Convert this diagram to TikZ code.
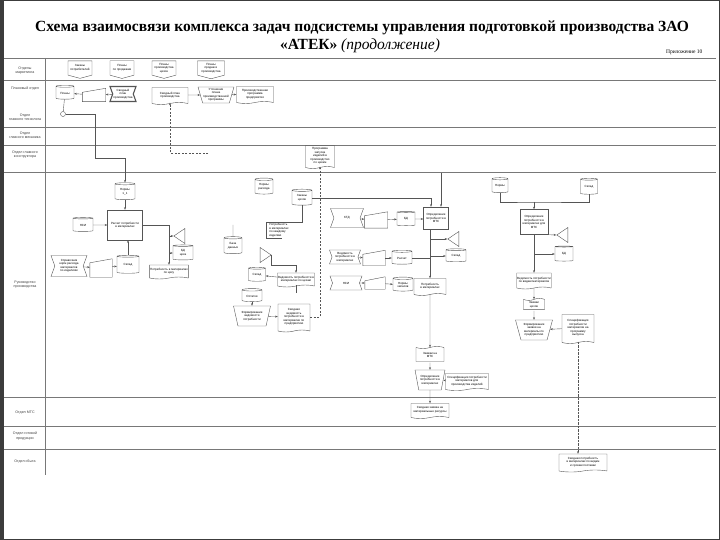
\documentclass[tikz,border=0pt]{standalone}
\usepackage{fontspec}
\setmainfont{Liberation Serif}
\newfontfamily\schemefont{Liberation Sans}
\usetikzlibrary{shapes.geometric, shapes.symbols, arrows.meta, positioning, calc}
\definecolor{linegray}{RGB}{85,85,85}
\definecolor{lanegray}{RGB}{120,120,120}
\definecolor{framegray}{RGB}{60,60,60}
\newcommand{\minitext}{\schemefont\fontsize{3}{3.5}\selectfont}
\newcommand{\lanetext}{\schemefont\fontsize{3.6}{4.2}\selectfont}
\tikzset{
  base/.style={draw=linegray, line width=0.4pt, align=center, font=\minitext,
               inner sep=0.5pt, text=black},
  proc/.style    = {base, rectangle},
  store/.style   = {base, cylinder, shape border rotate=90, aspect=0.2},
  doc/.style     = {base, tape, tape bend top=none, tape bend height=2pt},
  arch/.style    = {base, tape, tape bend bottom=none, tape bend height=2pt},
  offpage/.style = {base, signal, signal to=south, signal from=nowhere, signal pointer angle=150},
  screen/.style  = {base, signal, signal to=nowhere, signal from=west and east, signal pointer angle=140},
  manop/.style   = {base, trapezium, shape border rotate=180, trapezium stretches=true,
                    trapezium left angle=72, trapezium right angle=72},
  merge/.style   = {base, isosceles triangle, isosceles triangle stretches=true, shape border rotate=180},
  keyin/.style   = {base, draw=none, append after command={\pgfextra{
                    \draw[draw=linegray, line width=0.4pt] (\tikzlastnode.south west)
                      -- ([yshift=-4pt]\tikzlastnode.north west) -- (\tikzlastnode.north east)
                      -- (\tikzlastnode.south east) -- cycle;}}},
  arr/.style     = {-{Stealth[length=2.6pt, width=2pt]}, line width=0.4pt, color=linegray},
  link/.style    = {line width=0.4pt, color=linegray},
  darr/.style    = {-{Stealth[length=2.6pt, width=2pt]}, line width=0.4pt,
                    dash pattern=on 2pt off 1.5pt, color=linegray},
  lane/.style    = {line width=0.6pt, color=lanegray},
  lanelabel/.style = {font=\lanetext, align=center, text=black!75},
}

\begin{document}
\begin{tikzpicture}[x=1pt, y=-1pt]
  \useasboundingbox (0,0) rectangle (720,540);
  % page frame
  \draw[framegray, line width=0.8pt] (0.4,0.4) rectangle (719.6,539.6);
  \fill[framegray] (0,0) rectangle (3.5,540);

  % title
  \node[font=\bfseries\fontsize{15.5}{17}\selectfont] (title) at (362,28)
       {Схема взаимосвязи комплекса задач подсистемы управления подготовкой производства ЗАО};
  \node[font=\fontsize{15.5}{17}\selectfont] (title2) at (360,46)
       {\textbf{«АТЕК»} \textit{(продолжение)}};
  \node[font=\fontsize{5.5}{6}\selectfont, anchor=east] (appx) at (706,52) {Приложение 10};

  % lanes
  \foreach \y in {58,80,127,145,172,397,426,449} \draw[lane] (4,\y) -- (716,\y);
  \draw[lane] (45,58) -- (45,475);
  \node[lanelabel] (lmkt)  at (25,71)  {Отделы\\маркетинга};
  \node[lanelabel] (lplan) at (25,89)  {Плановый отдел};
  \node[lanelabel] (lteh)  at (25,117) {Отдел\\главного технолога};
  \node[lanelabel] (lmeh)  at (25,135) {Отдел\\главного механика};
  \node[lanelabel] (lkon)  at (25,155) {Отдел главного\\конструктора};
  \node[lanelabel] (lpro)  at (25,285) {Руководство\\производства};
  \node[lanelabel] (lmts)  at (25,413) {Отдел МТС};
  \node[lanelabel] (lgp)   at (25,436) {Отдел готовой\\продукции};
  \node[lanelabel] (lsb)   at (25,462) {Отдел сбыта};

  % off-page inputs
  \node[offpage, minimum width=24pt, minimum height=17pt] (zak)  at (80,68)  {Заказы\\потребителей};
  \node[offpage, minimum width=24pt, minimum height=17pt] (prod) at (122,68) {Планы\\по продажам};
  \node[offpage, minimum width=24pt, minimum height=17pt] (cehp) at (164,68) {Планы\\производства\\цехов};
  \node[offpage, minimum width=27pt, minimum height=17pt] (psp)  at (211,68) {Планы\\продаж и\\производства};

  % planning department
  \node[store, minimum width=18pt, minimum height=14pt] (plan0) at (65,93) {Планы};
  \node[keyin, minimum width=23pt, minimum height=13pt] (kin0) at (94,95) {};
  \node[screen, line width=1.1pt, minimum width=26pt, minimum height=15pt] (svod0) at (123,94)
       {Сводный\\план\\производства};
  \node[doc, minimum width=36pt, minimum height=17pt] (plandoc) at (170,95) {Сводный план\\производства};
  \node[manop, minimum width=33pt, minimum height=16pt] (utoch) at (216,95)
       {Уточнение\\плана\\производственной\\программы};
  \node[doc, minimum width=37pt, minimum height=17pt] (prog) at (255,94)
       {Производственная\\программа\\предприятия};
  \node[circle, draw=linegray, line width=0.4pt, minimum size=5pt, inner sep=0pt] (jn0) at (63,114) {};
  \coordinate (planend) at (208,153);

  \draw[arr] (svod0) -- (kin0);
  \draw[arr] (kin0) -- (plan0);
  \draw[arr] (plandoc) -- (utoch);
  \draw[arr] (utoch) -- (prog);
  \draw[link] (plan0) -- (jn0);
  \draw[darr] (planend) -| (plandoc.south);

  % launch programme
  \node[doc, minimum width=29pt, minimum height=23pt] (zapusk) at (320,156)
       {Программа\\запуска\\изделий в\\производство\\по цехам};

  % production: workshop demand
  \node[store, minimum width=20pt, minimum height=17pt] (normA) at (125,192) {Нормы\\1\_1};
  \node[proc, minimum width=35pt, minimum height=30pt] (calcA) at (125,225) {Расчет потребности\\в материалах};
  \node[store, minimum width=20pt, minimum height=14pt] (nsiA) at (83,225) {НСИ};
  \node[store, minimum width=22pt, minimum height=18pt] (ostA) at (128,265) {Склад};
  \node[keyin, minimum width=22pt, minimum height=18pt] (kinA) at (101,268) {};
  \node[screen, minimum width=36pt, minimum height=21pt] (sprA) at (69,266)
       {Справочник\\норм расхода\\материалов\\по изделиям};
  \node[merge, minimum width=15pt, minimum height=11pt] (triA) at (181,236) {};
  \node[store, minimum width=20pt, minimum height=15pt] (bdA) at (183,253) {БД\\цеха};
  \node[doc, minimum width=38pt, minimum height=14pt] (potrA) at (169,271) {Потребность в материалах\\по цеху};

  \draw[arr] (jn0.east) -| (95,158) -| (normA.north);
  \draw[arr] (normA) -- (calcA);
  \draw[arr] (nsiA) -- (calcA);
  \draw[arr] (ostA.north) -- (ostA.north |- calcA.south);
  \draw[arr] (sprA) -- (kinA);
  \draw[arr] (kinA) -- (ostA);
  \draw[arr] (calcA.east) -| (potrA.north);
  \draw[arr] (potrA.north |- triA.apex) -- (triA.apex);
  \draw[arr] (potrA.north |- bdA.west) -- (bdA.west);

  % production: summary statement
  \node[store, minimum width=18pt, minimum height=16pt] (normE) at (264,187) {Нормы\\расхода};
  \node[store, minimum width=20pt, minimum height=16pt] (zakF) at (302,198) {Заказы\\цехов};
  \node[font=\minitext, align=left, inner sep=1pt] (noteF) at (279,230)
       {Потребность\\в материалах\\по каждому\\изделию};
  \node[store, minimum width=18pt, minimum height=17pt] (bdG) at (233,246) {База\\данных};
  \coordinate (bdGin) at (233,225);
  \node[merge, shape border rotate=0, minimum width=15pt, minimum height=11pt] (triG) at (264,255) {};
  \node[store, minimum width=17pt, minimum height=14pt] (sklH) at (257,275) {Склад};
  \node[doc, minimum width=33pt, minimum height=14pt] (vedG) at (296,279)
       {Ведомость потребности в\\материалах по цехам};
  \node[store, minimum width=20pt, minimum height=13pt] (ostI) at (252,296) {Остатки};
  \node[manop, minimum width=37pt, minimum height=20pt] (formI) at (252,316)
       {Формирование\\ведомости\\потребности};
  \node[doc, minimum width=32pt, minimum height=28pt] (svodI) at (294,317)
       {Сводная\\ведомость\\потребности в\\материалах по\\предприятию};

  \draw[link] (zakF.south) |- ([xshift=-2pt]noteF.north west) -- ([xshift=-2pt]noteF.south west)
        -- ([xshift=14pt]noteF.south west);
  \draw[link] (bdGin) -- (bdG.north);
  \draw[arr] (triG.apex) -- ++(0,10) -| (vedG.north);
  \draw[arr] (vedG) -- (sklH);
  \draw[link] (vedG.south) -- ++(0,8);
  \draw[arr] (ostI) -- (formI);
  \draw[arr] (formI) -- (svodI);
  \draw[darr] (svodI.east) -| (zapusk.south);

  % production: demand for supplies
  \node[proc, minimum width=25pt, minimum height=22pt] (opJ) at (436,218) {Определение\\потребности в\\МТС};
  \coordinate (opJin) at (441,173);
  \node[screen, minimum width=33pt, minimum height=19pt] (ktdJ) at (347,218) {КТД};
  \node[keyin, minimum width=23pt, minimum height=16pt] (kinJ1) at (376,220) {};
  \node[store, minimum width=18pt, minimum height=14pt] (bdJ1) at (406,219) {БД};
  \node[screen, minimum width=31pt, minimum height=14pt] (vedJ2) at (345,257)
       {Ведомость\\потребности в\\материалах};
  \node[keyin, minimum width=22pt, minimum height=15pt] (kinJ2) at (374,258) {};
  \node[store, minimum width=20pt, minimum height=14pt] (bdJ2) at (402,258) {Расчет};
  \node[merge, minimum width=15pt, minimum height=11pt] (triJ) at (455,239) {};
  \node[store, minimum width=20pt, minimum height=13pt] (sklJ) at (456,256) {Склад};
  \node[screen, minimum width=32pt, minimum height=14pt] (nsiJ) at (346,283) {НСИ};
  \node[keyin, minimum width=20pt, minimum height=12pt] (kinJ3) at (375,283) {};
  \node[store, minimum width=20pt, minimum height=14pt] (zapJ) at (403,285) {Нормы\\запасов};
  \node[doc, minimum width=32pt, minimum height=17pt] (potrJ) at (430,286) {Потребность\\в материалах};

  \draw[arr] (zakF.east) -| ([xshift=-5pt]opJ.north);
  \draw[arr] (opJin) -- (opJin |- opJ.north);
  \draw[arr] (ktdJ) -- (kinJ1);
  \draw[arr] (kinJ1) -- (bdJ1);
  \draw[arr] (bdJ1) -- (bdJ1 -| opJ.west);
  \draw[arr] (vedJ2) -- (kinJ2);
  \draw[arr] (kinJ2) -- (bdJ2);
  \draw[arr] (nsiJ) -- (kinJ3);
  \draw[arr] (kinJ3) -- (zapJ);
  \draw[arr] (potrJ.north |- opJ.south) -- (potrJ.north);
  \draw[arr] (potrJ.north |- triJ.apex) -- (triJ.apex);
  \draw[arr] (potrJ.north |- sklJ.west) -- (sklJ.west);
  \draw[link] (bdJ2.east) -- (bdJ2.east -| potrJ.north);

  % requests to supply department
  \node[arch, minimum width=28pt, minimum height=15pt] (zayK) at (430,355) {Заявки на\\МТС};
  \node[manop, minimum width=30pt, minimum height=20pt] (formK) at (430,380)
       {Определение\\потребности в\\материалах};
  \node[doc, minimum width=43pt, minimum height=17pt] (specK) at (467,381)
       {Спецификация потребности\\материалов для\\производства изделий};
  \node[doc, minimum width=38pt, minimum height=15pt] (zayL) at (430,410)
       {Сводная заявка на\\материальные ресурсы};
  \draw[arr] (potrJ) -- (zayK);
  \draw[arr] (zayK) -- (formK);
  \draw[arr] (specK) -- (formK);
  \draw[arr] (formK) -- (zayL);

  % production: material requisition
  \node[store, minimum width=16pt, minimum height=15pt] (normM) at (500,186) {Нормы};
  \node[store, minimum width=17pt, minimum height=16pt] (sklM) at (589,187) {Склад};
  \node[proc, minimum width=28pt, minimum height=25pt] (opM) at (534,222)
       {Определение\\потребности в\\материалах для\\МТС};
  \coordinate (jM) at (534,202);
  \node[merge, minimum width=15pt, minimum height=11pt] (triM) at (564,235) {};
  \node[store, minimum width=18pt, minimum height=15pt] (bdN) at (564,254) {БД};
  \node[doc, minimum width=34pt, minimum height=16pt] (vedM) at (534,280)
       {Ведомость потребности\\по видам материалов};
  \node[arch, minimum width=21pt, minimum height=11pt] (zayM) at (534,305) {Заявки\\цехов};
  \node[manop, minimum width=37pt, minimum height=20pt] (formM) at (534,330)
       {Формирование\\заявки на\\материалы по\\предприятию};
  \node[doc, minimum width=32pt, minimum height=29pt] (specM) at (578,328)
       {Спецификация\\потребности\\материалов на\\программу\\выпуска};
  \node[doc, minimum width=48pt, minimum height=18pt] (svodP) at (583,462)
       {Сводная потребность\\в материалах по видам\\и срокам поставки};

  \draw[link] (normM.south) |- (jM) -| (sklM.south);
  \draw[arr] (jM) -- (opM.north);
  \draw[arr] (opM.south east) -- (triM.apex);
  \draw[arr] (opM) -- (vedM);
  \draw[arr] (opM.south |- bdN.west) -- (bdN.west);
  \draw[arr] (vedM) -- (zayM);
  \draw[arr] (zayM) -- (formM);
  \draw[arr] (specM) -- (formM);
  \draw[arr, densely dotted] (specM.south) -- (specM.south |- svodP.north);
\end{tikzpicture}
\end{document}
